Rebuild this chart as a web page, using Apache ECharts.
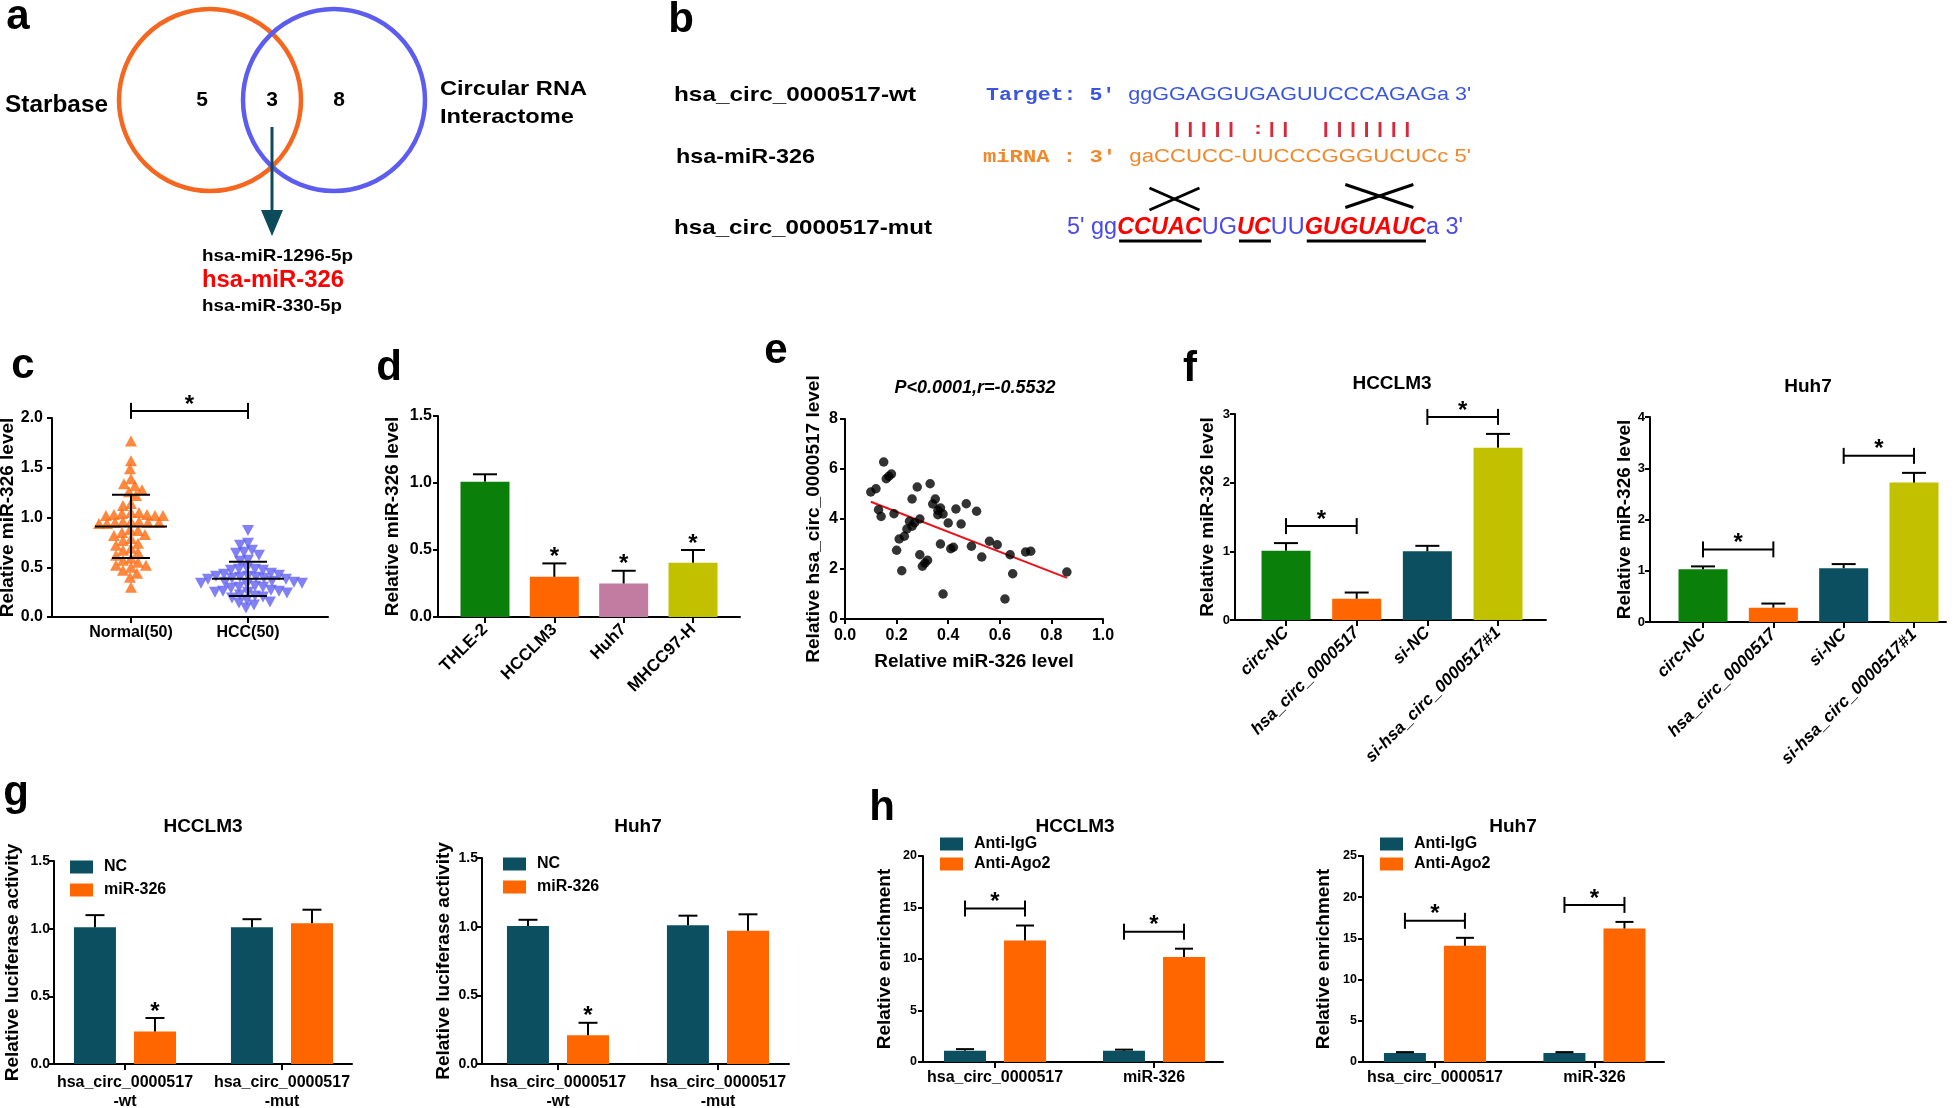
<!DOCTYPE html>
<html>
<head>
<meta charset="utf-8">
<script src="https://cdn.jsdelivr.net/npm/echarts@6/dist/echarts.min.js"></script>
<style>
html,body{margin:0;padding:0;background:#ffffff;}
#chart{width:1959px;height:1108px;}
</style>
</head>
<body>
<div id="chart"></div>
<script>
// ================= DATA =================
// (a) Venn
const vennSets = ['Starbase', 'Circular RNA\nInteractome'];
const vennCounts = [5, 3, 8];
const sharedMiRNAs = ['hsa-miR-1296-5p', 'hsa-miR-326', 'hsa-miR-330-5p'];

// (b) binding sites
const bLabels = ['hsa_circ_0000517-wt', 'hsa-miR-326', 'hsa_circ_0000517-mut'];
const bTarget = ["Target: 5' ", "ggGGAGGUGAGUUCCCAGAGa 3'"];
const bPairing = '||||| :||  |||||||';
const bMiRNA = ["miRNA : 3' ", "gaCCUCC-UUCCCGGGUCUCc 5'"];
const bMutant = [["5' gg", 0], ['CCUAC', 1], ['UG', 0], ['UC', 1], ['UU', 0], ['GUGUAUC', 1], ["a 3'", 0]];

// (c) tissue levels
const cGroups = ['Normal(50)', 'HCC(50)'];
const normalValues = [1.77,1.57,1.49,1.39,1.34,1.32,1.28,1.26,1.22,1.14,1.12,
  1.05,1.04,1.03,1.02,1.02,1.02,1.03,1.05,
  0.96,0.95,0.94,0.96,0.95,0.94,0.95,0.96,
  0.88,0.87,0.85,0.83,0.82,
  0.79,0.77,0.74,0.72,0.69,0.67,0.65,0.62,
  0.59,0.57,0.55,0.52,0.52,0.50,0.47,0.44,0.40,0.30];
const hccValues = [0.87,0.74,0.72,0.67,0.65,0.64,0.62,0.57,0.56,
  0.49,0.48,0.47,0.47,0.48,
  0.44,0.43,0.42,
  0.41,0.41,0.40,0.40,0.39,0.39,0.38,0.38,
  0.36,0.35,0.35,0.34,0.34,0.33,
  0.31,0.30,0.30,0.29,
  0.27,0.26,0.26,0.25,0.25,0.24,
  0.22,0.21,0.20,0.19,
  0.17,0.15,0.14,
  0.12,0.09];

// (d) cell lines
const dCells = ['THLE-2', 'HCCLM3', 'Huh7', 'MHCC97-H'];
const dMean = [1.01, 0.30, 0.25, 0.405];
const dErr = [1.065, 0.40, 0.345, 0.50];
const dSig = [0, 1, 1, 1];

// (e) correlation
const eStatText = 'P<0.0001,r=-0.5532';
const eMiR326 = [0.10,0.12,0.15,0.16,0.17,0.18,0.13,0.14,0.19,0.28,0.33,0.26,0.35,0.34,0.37,0.36,0.38,0.40,0.43,0.47,0.45,0.51,
  0.25,0.26,0.29,0.24,0.23,0.21,0.20,0.22,0.29,0.30,0.31,0.32,0.37,0.41,0.42,0.38,0.49,0.53,0.56,0.59,0.64,0.65,0.62,0.70,0.72,0.86,0.27,0.36];
const eCirc = [5.08,5.21,6.28,5.61,5.71,5.80,4.37,4.10,4.21,5.28,5.41,4.80,4.80,4.60,4.44,4.17,4.20,3.84,4.40,4.61,3.80,4.31,
  3.91,3.71,4.00,3.60,3.31,3.20,2.75,1.93,2.57,2.11,2.24,2.35,3.00,2.81,2.87,1.00,2.91,2.48,3.11,2.97,2.57,1.81,0.80,2.68,2.71,1.88,3.85,4.35];

// (f) overexpression / knockdown
const cellLines = ['HCCLM3', 'Huh7'];
const fGroups = ['circ-NC', 'hsa_circ_0000517', 'si-NC', 'si-hsa_circ_0000517#1'];
const fHCCLM3Mean = [1.01, 0.31, 1.00, 2.51];
const fHCCLM3Err  = [1.12, 0.40, 1.08, 2.71];
const fHuh7Mean   = [1.03, 0.28, 1.05, 2.72];
const fHuh7Err    = [1.085, 0.36, 1.13, 2.91];
const fPairs = [[0, 1], [2, 3]];

// (g) luciferase
const gGroups = ['hsa_circ_0000517\n-wt', 'hsa_circ_0000517\n-mut'];
const gSeries = ['NC', 'miR-326'];
const gHCCLM3NC = [1.01, 1.01],  gHCCLM3NCErr = [1.10, 1.07];
const gHCCLM3Mir = [0.24, 1.04], gHCCLM3MirErr = [0.34, 1.14];
const gHuh7NC = [1.005, 1.01],   gHuh7NCErr = [1.05, 1.08];
const gHuh7Mir = [0.21, 0.97],   gHuh7MirErr = [0.30, 1.09];
const gSig = [1, 0];

// (h) RIP
const hGroups = ['hsa_circ_0000517', 'miR-326'];
const hSeries = ['Anti-IgG', 'Anti-Ago2'];
const hHCCLM3IgG = [1.1, 1.1],   hHCCLM3IgGErr = [1.25, 1.2];
const hHCCLM3Ago = [11.8, 10.2], hHCCLM3AgoErr = [13.25, 11.0];
const hHuh7IgG = [1.08, 1.08],   hHuh7IgGErr = [1.2, 1.2];
const hHuh7Ago = [14.1, 16.2],   hHuh7AgoErr = [15.07, 17.0];

// ================= STYLE / LAYOUT =================
const FONT = '"Liberation Sans", Arial, Helvetica, sans-serif';
const MONO = '"Liberation Mono", "Courier New", monospace';
const C = {teal:'#0b4f60', orange:'#ff6600', green:'#0a800a', olive:'#c1c100', pink:'#c27ba1',
  blue:'#6262f2', tri:'#ff6a10', vennO:'#f5661e', vennB:'#5c5cf0', arrow:'#0d4a5a', red:'#ff0000'};

const grids = [
  {left:52,   top:418, width:276, height:199}, // c
  {left:438,  top:416, width:302, height:201}, // d
  {left:845,  top:419, width:258, height:200}, // e
  {left:1235, top:414, width:311, height:206}, // f HCCLM3
  {left:1650, top:417, width:296, height:205}, // f Huh7
  {left:54,   top:861, width:298, height:203}, // g HCCLM3
  {left:482,  top:858, width:307, height:206}, // g Huh7
  {left:923,  top:856, width:300, height:206}, // h HCCLM3
  {left:1363, top:856, width:301, height:206}  // h Huh7
];
const xr = [[-0.675,1.684],[-0.678,3.678],[0,1],[-0.722,3.679],[-0.754,3.455],
            [-0.452,1.446],[-0.475,1.444],[-0.453,1.434],[-0.451,1.436]];

const measure = (() => { const cx = document.createElement('canvas').getContext('2d');
  return (t, f) => { cx.font = f; return cx.measureText(t).width; }; })();
const fontStr = (size, weight = 'normal', style = 'normal', fam = FONT) => `${style} ${weight} ${size}px ${fam}`;

// ================= GRAPHIC ANNOTATIONS =================
const graphics = [];
function txt(text, x, y, font, fill, o = {}) {
  graphics.push({type:'text', x, y, scaleX:o.sx || 1, z:10, silent:true,
    style:{text, font, fill, align:o.align || 'left', textAlign:o.align || 'left',
      verticalAlign:'middle', textVerticalAlign:'middle', lineHeight:o.lh}});
}
function fitText(text, x, y, font, fill, width, o = {}) {
  const w = Math.max(...text.split('\n').map(l => measure(l, font)));
  txt(text, x, y, font, fill, Object.assign({}, o, {sx: width / w}));
}
function richLine(segs, x, y, width) {
  const fonts = segs.map(s => fontStr(s.size, s.weight || 'normal', s.style || 'normal', s.fam || FONT));
  const nat = segs.map((s, i) => measure(s.t, fonts[i]));
  const sx = width / nat.reduce((a, b) => a + b, 0);
  const rich = {};
  segs.forEach((s, i) => { rich['s' + i] = {fontSize:s.size, fontFamily:s.fam || FONT, fontWeight:s.weight || 'normal',
    fontStyle:s.style || 'normal', fill:s.fill}; });
  graphics.push({type:'text', x, y, scaleX:sx, z:10, silent:true,
    style:{text: segs.map((s, i) => `{s${i}|${s.t}}`).join(''), rich, fill:'#000',
      align:'left', textAlign:'left', verticalAlign:'middle', textVerticalAlign:'middle'}});
  let acc = x; return nat.map(w => { const a = acc; acc += w * sx; return [a, acc]; });
}
const line = (x1, y1, x2, y2, w, c) => graphics.push({type:'line', z:10, silent:true,
  shape:{x1, y1, x2, y2}, style:{stroke:c || '#000', lineWidth:w}});

// panel letters
[['a',18,17],['b',681,20],['c',23,366],['d',389,368],['e',776,351],['f',1190,369],['g',16,793],['h',882,808]]
  .forEach(([t, x, y]) => txt(t, x, y, fontStr(42, 'bold'), '#000', {align:'center'}));

// (a) Venn
graphics.push({type:'circle', z:5, silent:true, shape:{cx:210, cy:100, r:91}, style:{fill:'none', stroke:C.vennO, lineWidth:4.5}});
graphics.push({type:'circle', z:5, silent:true, shape:{cx:334, cy:100, r:91}, style:{fill:'none', stroke:C.vennB, lineWidth:4.5}});
[202, 272, 339].forEach((x, i) => txt(String(vennCounts[i]), x, 100, fontStr(21, 'bold'), '#000', {align:'center'}));
fitText(vennSets[0], 5, 106, fontStr(23, 'bold'), '#000', 103);
fitText(vennSets[1], 440, 103, fontStr(21, 'bold'), '#000', 147, {lh:28});
line(272, 127, 272, 214, 3, C.arrow);
graphics.push({type:'polygon', z:10, silent:true, shape:{points:[[261,210],[283,210],[272,236]]}, style:{fill:C.arrow}});
fitText(sharedMiRNAs[0], 202, 256, fontStr(17, 'bold'), '#000', 151);
fitText(sharedMiRNAs[1], 202, 281, fontStr(23, 'bold'), C.red, 142);
fitText(sharedMiRNAs[2], 202, 306, fontStr(17, 'bold'), '#000', 140);

// (b) sequences
fitText(bLabels[0], 674, 95, fontStr(21, 'bold'), '#000', 242);
fitText(bLabels[1], 676, 157, fontStr(21, 'bold'), '#000', 139);
fitText(bLabels[2], 674, 228, fontStr(21, 'bold'), '#000', 258);
richLine([{t:bTarget[0], size:18, weight:'bold', fam:MONO, fill:'#3a56e0'}, {t:bTarget[1], size:18, fill:'#3a56e0'}], 986, 95, 485);
fitText(bPairing, 1170, 130, fontStr(17, 'bold', 'normal', MONO), '#d42a3c', 244);
richLine([{t:bMiRNA[0], size:18, weight:'bold', fam:MONO, fill:'#f0882c'}, {t:bMiRNA[1], size:18, fill:'#f0882c'}], 983, 157, 488);
const mutX = richLine(bMutant.map(([t, m]) => m ? {t, size:23, weight:'bold', style:'italic', fill:C.red}
                                               : {t, size:23, fill:'#4a4ae8'}), 1067, 228, 396);
bMutant.forEach(([t, m], i) => { if (m) line(mutX[i][0] + 2, 241, mutX[i][1], 241, 3); });
const mutIdx = bMutant.map((s, i) => s[1] ? i : -1).filter(i => i >= 0);
[[mutIdx[0], 25, 11, 15, 199], [mutIdx[mutIdx.length - 1], 34, 11.5, 14, 196]].forEach(([i, hw, hh, dx, cy]) => {
  const cx = (mutX[i][0] + mutX[i][1]) / 2 + dx;
  line(cx - hw, cy - hh, cx + hw, cy + hh, 3); line(cx - hw, cy + hh, cx + hw, cy - hh, 3);
});

// titles
txt(eStatText, 975, 388, fontStr(18, 'bold', 'italic'), '#000', {align:'center'});
[[cellLines[0],1392,384],[cellLines[1],1808,387],[cellLines[0],203,827],[cellLines[1],638,827],
 [cellLines[0],1075,827],[cellLines[1],1513,827]].forEach(([t, x, y]) => txt(t, x, y, fontStr(19, 'bold'), '#000', {align:'center'}));

// ================= AXES =================
const AX = {color:'#000', width:2};
function catX(gi, cats, o) {
  const idx = cats.map((_, i) => i);
  return {type:'value', gridIndex:gi, min:xr[gi][0], max:xr[gi][1],
    axisLine:{show:true, onZero:false, lineStyle:AX},
    axisTick:{show:true, customValues:idx, length:6, lineStyle:AX},
    axisLabel:{show:true, customValues:idx, color:'#000', fontFamily:FONT, fontWeight:'bold',
      fontStyle:o.italic ? 'italic' : 'normal', fontSize:o.fs, rotate:o.rot || 0, margin:o.margin, lineHeight:o.lh,
      formatter:v => { const i = Math.round(v); return Math.abs(v - i) < 1e-6 && cats[i] !== undefined ? cats[i] : ''; }},
    splitLine:{show:false}};
}
function yAx(gi, max, interval, dec, name, gap, fs, margin) {
  return {type:'value', gridIndex:gi, min:0, max, interval,
    axisLine:{show:true, onZero:false, lineStyle:AX},
    axisTick:{show:true, length:5, lineStyle:AX},
    axisLabel:{show:true, color:'#000', fontFamily:FONT, fontWeight:'bold', fontSize:fs, margin, formatter:v => v.toFixed(dec)},
    splitLine:{show:false},
    name, nameLocation:'middle', nameGap:gap, nameRotate:90,
    nameTextStyle:{color:'#000', fontFamily:FONT, fontWeight:'bold', fontSize:19}};
}
const xAxis = [
  catX(0, cGroups, {fs:16, margin:8}),
  catX(1, dCells, {fs:17, rot:45, margin:10}),
  {type:'value', gridIndex:2, min:0, max:1, interval:0.2,
    axisLine:{show:true, onZero:false, lineStyle:AX}, axisTick:{show:true, length:5, lineStyle:AX},
    axisLabel:{color:'#000', fontFamily:FONT, fontWeight:'bold', fontSize:16, margin:9, formatter:v => v.toFixed(1)},
    splitLine:{show:false}, name:'Relative miR-326 level', nameLocation:'middle', nameGap:33,
    nameTextStyle:{color:'#000', fontFamily:FONT, fontWeight:'bold', fontSize:19}},
  catX(3, fGroups, {fs:17, rot:45, italic:true, margin:10}),
  catX(4, fGroups, {fs:17, rot:45, italic:true, margin:10}),
  catX(5, gGroups, {fs:16, margin:9, lh:19}),
  catX(6, gGroups, {fs:16, margin:9, lh:19}),
  catX(7, hGroups, {fs:16, margin:8}),
  catX(8, hGroups, {fs:16, margin:8})
];
const yAxis = [
  yAx(0, 2, 0.5, 1, 'Relative miR-326 level', 35, 16, 9),
  yAx(1, 1.5, 0.5, 1, 'Relative miR-326 level', 36, 16, 6),
  yAx(2, 8, 2, 0, 'Relative hsa_circ_0000517 level', 22, 16, 7),
  yAx(3, 3, 1, 0, 'Relative miR-326 level', 18, 13, 5),
  yAx(4, 4, 1, 0, 'Relative miR-326 level', 16, 13, 5),
  yAx(5, 1.5, 0.5, 1, 'Relative luciferase activity', 32, 14, 4),
  yAx(6, 1.5, 0.5, 1, 'Relative luciferase activity', 29, 14, 4),
  yAx(7, 20, 5, 0, 'Relative enrichment', 29, 12.5, 6),
  yAx(8, 25, 5, 0, 'Relative enrichment', 30, 12.5, 6)
];

// ================= SERIES =================
function barS(gi, vals, colors, width, name) {
  const col = i => Array.isArray(colors) ? colors[i] : colors;
  return {type:'bar', name, xAxisIndex:gi, yAxisIndex:gi, barWidth:width, barGap:'43%', silent:true, z:2,
    itemStyle:{color:col(0)}, data: vals.map((v, i) => ({value:[i, v], itemStyle:{color:col(i)}}))};
}
function errS(gi, means, errs, dx, cap, sig) {
  return {type:'custom', xAxisIndex:gi, yAxisIndex:gi, z:4, silent:true,
    data: means.map((m, i) => [i, m, errs[i], sig && sig[i] ? 1 : 0]), encode:{x:0, y:[1, 2]},
    renderItem:(p, api) => {
      const a = api.coord([api.value(0), api.value(1)]), b = api.coord([api.value(0), api.value(2)]);
      const x = a[0] + dx;
      const ch = [
        {type:'line', shape:{x1:x, y1:a[1], x2:x, y2:b[1]}, style:{stroke:'#000', lineWidth:2}},
        {type:'line', shape:{x1:x - cap, y1:b[1], x2:x + cap, y2:b[1]}, style:{stroke:'#000', lineWidth:2}}];
      if (api.value(3)) ch.push({type:'text', x, y:b[1] - 6, style:{text:'*', fill:'#000', font:fontStr(24, 'bold'),
        align:'center', textAlign:'center', verticalAlign:'middle', textVerticalAlign:'middle'}});
      return {type:'group', children:ch};
    }};
}
function bracketS(gi, items, dxL, dxR, gap) {
  return {type:'custom', xAxisIndex:gi, yAxisIndex:gi, z:4, silent:true, data:items, encode:{x:[0, 1], y:2},
    renderItem:(p, api) => {
      const a = api.coord([api.value(0), api.value(2)]), b = api.coord([api.value(1), api.value(2)]);
      const xl = a[0] + dxL, xrr = b[0] + dxR, y = a[1] - gap;
      const L = (x1, y1, x2, y2) => ({type:'line', shape:{x1, y1, x2, y2}, style:{stroke:'#000', lineWidth:2}});
      return {type:'group', children:[L(xl, y, xrr, y), L(xl, y - 8, xl, y + 8), L(xrr, y - 8, xrr, y + 8),
        {type:'text', x:(xl + xrr) / 2, y:y - 6, style:{text:'*', fill:'#000', font:fontStr(24, 'bold'),
          align:'center', textAlign:'center', verticalAlign:'middle', textVerticalAlign:'middle'}}]};
    }};
}
// beeswarm layout of the points (pixel-space, no overlap)
function swarm(values, pxPerUnitY, d) {
  const order = values.map((v, i) => i).sort((a, b) => values[b] - values[a]);
  const placed = [], off = new Array(values.length).fill(0);
  order.forEach(i => {
    const y = values[i] * pxPerUnitY;
    for (let k = 0; k < 600; k++) {
      const c = (k % 2 ? -1 : 1) * Math.ceil(k / 2);
      if (placed.every(p => (p[0] - c) ** 2 + (p[1] - y) ** 2 >= d * d)) { off[i] = c; placed.push([c, y]); break; }
    }
  });
  return off;
}
const cPxX = grids[0].width / (xr[0][1] - xr[0][0]), cPxY = grids[0].height / 2;
const nOff = swarm(normalValues, cPxY, 8), hOff = swarm(hccValues, cPxY, 8);
const stat = a => { const m = a.reduce((s, v) => s + v, 0) / a.length;
  return [m, Math.sqrt(a.reduce((s, v) => s + (v - m) ** 2, 0) / (a.length - 1))]; };
const cStats = [stat(normalValues), stat(hccValues)];

// regression for (e)
const n = eMiR326.length, mx = eMiR326.reduce((s, v) => s + v, 0) / n, my = eCirc.reduce((s, v) => s + v, 0) / n;
const slope = eMiR326.reduce((s, x, i) => s + (x - mx) * (eCirc[i] - my), 0) / eMiR326.reduce((s, x) => s + (x - mx) ** 2, 0);
const icpt = my - slope * mx;
const exMin = Math.min(...eMiR326), exMax = Math.max(...eMiR326);

const series = [
  // c
  {type:'scatter', xAxisIndex:0, yAxisIndex:0, symbol:'triangle', symbolSize:[12, 11], itemStyle:{color:C.tri}, silent:true, z:2,
    data: normalValues.map((v, i) => [nOff[i] / cPxX, v])},
  {type:'scatter', xAxisIndex:0, yAxisIndex:0, symbol:'triangle', symbolRotate:180, symbolSize:[12, 11], itemStyle:{color:C.blue}, silent:true, z:2,
    data: hccValues.map((v, i) => [1 + hOff[i] / cPxX, v])},
  {type:'custom', xAxisIndex:0, yAxisIndex:0, z:5, silent:true, data: cStats.map((s, i) => [i, s[0], s[1]]), encode:{x:0, y:1},
    renderItem:(p, api) => {
      const x = api.value(0), m = api.value(1), s = api.value(2);
      const pm = api.coord([x, m]), lo = api.coord([x, m - s]), hi = api.coord([x, m + s]);
      const L = (x1, y1, x2, y2) => ({type:'line', shape:{x1, y1, x2, y2}, style:{stroke:'#000', lineWidth:2}});
      return {type:'group', children:[L(pm[0] - 36, pm[1], pm[0] + 36, pm[1]), L(pm[0], lo[1], pm[0], hi[1]),
        L(pm[0] - 19, lo[1], pm[0] + 19, lo[1]), L(pm[0] - 19, hi[1], pm[0] + 19, hi[1])]};
    }},
  bracketS(0, [[0, 1, Math.max(...normalValues, ...hccValues)]], 0, 0, 30),
  // d
  barS(1, dMean, [C.green, C.orange, C.pink, C.olive], 49),
  errS(1, dMean, dErr, 0, 12, dSig),
  // e
  {type:'line', xAxisIndex:2, yAxisIndex:2, showSymbol:false, symbol:'none', silent:true, z:2,
    lineStyle:{color:'#e8141c', width:2},
    data:[[exMin, icpt + slope * exMin], [exMax, icpt + slope * exMax]]},
  {type:'scatter', xAxisIndex:2, yAxisIndex:2, symbol:'circle', symbolSize:9.5, itemStyle:{color:'#000'}, silent:true, z:3,
    data: eMiR326.map((x, i) => [x, eCirc[i]])},
  // f
  barS(3, fHCCLM3Mean, [C.green, C.orange, C.teal, C.olive], 49),
  errS(3, fHCCLM3Mean, fHCCLM3Err, 0, 12),
  bracketS(3, fPairs.map(([a, b]) => [a, b, Math.max(fHCCLM3Err[a], fHCCLM3Err[b])]), 0, 0, 17),
  barS(4, fHuh7Mean, [C.green, C.orange, C.teal, C.olive], 49),
  errS(4, fHuh7Mean, fHuh7Err, 0, 12),
  bracketS(4, fPairs.map(([a, b]) => [a, b, Math.max(fHuh7Err[a], fHuh7Err[b])]), 0, 0, 17),
  // g
  barS(5, gHCCLM3NC, C.teal, 42, gSeries[0]),
  barS(5, gHCCLM3Mir, C.orange, 42, gSeries[1]),
  errS(5, gHCCLM3NC, gHCCLM3NCErr, -30, 9.5),
  errS(5, gHCCLM3Mir, gHCCLM3MirErr, 30, 9.5, gSig),
  barS(6, gHuh7NC, C.teal, 42, gSeries[0]),
  barS(6, gHuh7Mir, C.orange, 42, gSeries[1]),
  errS(6, gHuh7NC, gHuh7NCErr, -30, 9.5),
  errS(6, gHuh7Mir, gHuh7MirErr, 30, 9.5, gSig),
  // h
  barS(7, hHCCLM3IgG, C.teal, 42, hSeries[0]),
  barS(7, hHCCLM3Ago, C.orange, 42, hSeries[1]),
  errS(7, hHCCLM3IgG, hHCCLM3IgGErr, -30, 9),
  errS(7, hHCCLM3Ago, hHCCLM3AgoErr, 30, 9),
  bracketS(7, hGroups.map((_, i) => [i, i, Math.max(hHCCLM3IgGErr[i], hHCCLM3AgoErr[i])]), -30, 30, 17),
  barS(8, hHuh7IgG, C.teal, 42, hSeries[0]),
  barS(8, hHuh7Ago, C.orange, 42, hSeries[1]),
  errS(8, hHuh7IgG, hHuh7IgGErr, -30, 9),
  errS(8, hHuh7Ago, hHuh7AgoErr, 30, 9),
  bracketS(8, hGroups.map((_, i) => [i, i, Math.max(hHuh7IgGErr[i], hHuh7AgoErr[i])]), -30, 30, 17)
];

const legendBase = names => ({data:names, orient:'vertical', icon:'rect', itemWidth:23, itemHeight:13, itemGap:7,
  selectedMode:false, padding:0,
  textStyle:{color:'#000', fontFamily:FONT, fontWeight:'bold', fontSize:16, padding:[0, 0, 0, 6]}});
const legend = [
  Object.assign(legendBase(gSeries), {left:70, top:859}),
  Object.assign(legendBase(gSeries), {left:503, top:856}),
  Object.assign(legendBase(hSeries), {left:940, top:836, itemGap:4}),
  Object.assign(legendBase(hSeries), {left:1380, top:836, itemGap:4})
];

const chart = echarts.init(document.getElementById('chart'), null, {renderer:'canvas'});
chart.setOption({
  animation:false,
  backgroundColor:'#ffffff',
  grid: grids.map(g => Object.assign({outerBoundsMode:'none', containLabel:false}, g)),
  xAxis, yAxis, legend, series,
  graphic: graphics
});
</script>
</body>
</html>
